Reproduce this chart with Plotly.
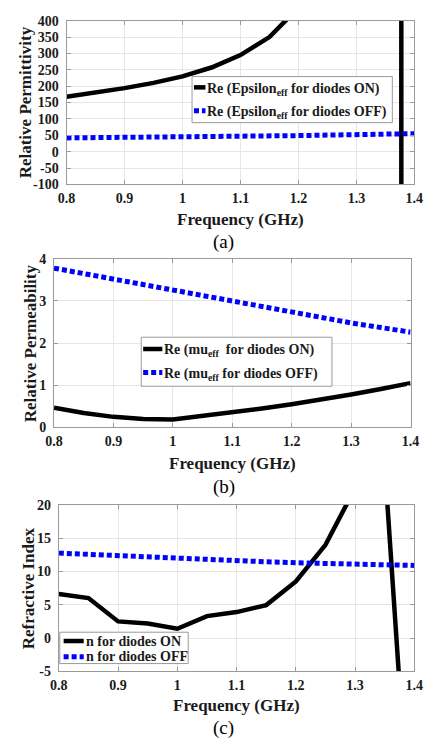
import plotly.graph_objects as go

# ---- data -------------------------------------------------------------
freq = [0.80, 0.85, 0.90, 0.95, 1.00, 1.05, 1.10, 1.15, 1.20, 1.25, 1.30, 1.35, 1.40]

# (a) effective permittivity, diodes ON has a resonance near 1.377 GHz
freq_eps_on = [0.80, 0.85, 0.90, 0.95, 1.00, 1.05, 1.10, 1.15, 1.20, 1.25, 1.30, 1.35,
               1.375, 1.380, 1.40]
eps_on = [168, 180, 194, 210, 230, 257, 295, 350, 440, 620, 1000, 2500,
          30000, -30000, -3000]
eps_off = [42, 42.5, 43, 44, 45, 46, 47, 48, 49, 50.5, 52, 53.5, 55]

# (b) effective permeability
mu_on = [0.47, 0.34, 0.25, 0.20, 0.19, 0.27, 0.36, 0.45, 0.55, 0.66, 0.78, 0.91, 1.05]
mu_off = [3.78, 3.65, 3.52, 3.38, 3.24, 3.10, 2.97, 2.84, 2.71, 2.59, 2.48, 2.37, 2.26]

# (c) refractive index
n_on = [6.6, 6.0, 2.5, 2.2, 1.4, 3.3, 3.9, 4.95, 8.5, 14.0, 22.5, 26.0, -40.0]
n_off = [12.75, 12.55, 12.3, 12.1, 11.9, 11.75, 11.6, 11.45, 11.3, 11.2, 11.1, 11.0, 10.9]

x_ticks = [0.8, 0.9, 1.0, 1.1, 1.2, 1.3, 1.4]
x_ticktext = ["0.8", "0.9", "1", "1.1", "1.2", "1.3", "1.4"]
eps_ticks = [400, 350, 300, 250, 200, 150, 100, 50, 0, -50, -100]
mu_ticks = [0, 1, 2, 3, 4]
n_ticks = [20, 15, 10, 5, 0, -5]

legend_a = ["Re (Epsilon<sub>eff</sub> for diodes ON)",
            "Re (Epsilon<sub>eff</sub> for diodes OFF)"]
legend_b = ["Re (mu<sub>eff</sub>  for diodes ON)",
            "Re (mu<sub>eff</sub> for diodes OFF)"]
legend_c = ["n for diodes ON", "n for diodes OFF"]

# ---- styling ----------------------------------------------------------
SERIF = "Liberation Serif, Times New Roman, serif"
W, H = 432, 748
TXT = "#1a1a1a"
BOX = "#9a9a9a"
ON_LINE = dict(color="black", width=4.5)
OFF_LINE = dict(color="#0000ff", width=5, dash="5px,3px")


def px_x(p):
    return p / W


def px_y(p):
    return 1 - p / H


fig = go.Figure()

fig.add_trace(go.Scatter(x=freq_eps_on, y=eps_on, mode="lines", line=ON_LINE,
                         name=legend_a[0], xaxis="x", yaxis="y"))
fig.add_trace(go.Scatter(x=freq, y=eps_off, mode="lines", line=OFF_LINE,
                         name=legend_a[1], xaxis="x", yaxis="y"))
fig.add_trace(go.Scatter(x=freq, y=mu_on, mode="lines", line=ON_LINE,
                         name=legend_b[0], xaxis="x2", yaxis="y2"))
fig.add_trace(go.Scatter(x=freq, y=mu_off, mode="lines", line=OFF_LINE,
                         name=legend_b[1], xaxis="x2", yaxis="y2"))
fig.add_trace(go.Scatter(x=freq, y=n_on, mode="lines", line=ON_LINE,
                         name=legend_c[0], xaxis="x3", yaxis="y3"))
fig.add_trace(go.Scatter(x=freq, y=n_off, mode="lines", line=OFF_LINE,
                         name=legend_c[1], xaxis="x3", yaxis="y3"))

tick_font = dict(family=SERIF, size=14, color=TXT, weight="bold")
common = dict(showline=True, linecolor=BOX, linewidth=1, mirror="ticks",
              showgrid=True, gridcolor="#e6e6e6", gridwidth=1,
              ticks="inside", ticklen=4, tickcolor=BOX,
              tickfont=tick_font, zeroline=False)


def xaxis(domain, anchor):
    return dict(common, domain=domain, anchor=anchor, range=[0.8, 1.4],
                tickvals=x_ticks, ticktext=x_ticktext, ticklabelstandoff=1)


def yaxis(domain, anchor, rng, ticks):
    return dict(common, domain=domain, anchor=anchor, range=rng,
                tickvals=ticks, ticktext=[str(t) for t in ticks],
                ticklabelstandoff=4)


fig.update_layout(
    width=W, height=H, margin=dict(l=0, r=0, t=0, b=0),
    paper_bgcolor="white", plot_bgcolor="white", showlegend=False,
    xaxis=xaxis([px_x(60), px_x(423)], "y"),
    yaxis=yaxis([px_y(181), px_y(14)], "x", [-100, 400], eps_ticks),
    xaxis2=xaxis([px_x(47), px_x(419)], "y2"),
    yaxis2=yaxis([px_y(429), px_y(257)], "x2", [0, 4], mu_ticks),
    xaxis3=xaxis([px_x(52), px_x(423)], "y3"),
    yaxis3=yaxis([px_y(678), px_y(508)], "x3", [-5, 20], n_ticks),
)

title_font = dict(family=SERIF, size=17, color=TXT, weight="bold")


def text(label, x, y, font, **kw):
    fig.add_annotation(text=label, x=px_x(x), y=px_y(y), xref="paper", yref="paper",
                       showarrow=False, font=font, **kw)


# axis titles
y_titles = [("Relative Permittivity", 17, 97),
            ("Relative Permeability", 22, 343),
            ("Refractive Index", 20, 593)]
for label, x, y in y_titles:
    text(label, x, y, title_font, textangle=-90, xanchor="center", yanchor="middle")

x_titles = [(241.5, 217), (233, 466), (237.5, 713)]
for x, y in x_titles:
    text("Frequency (GHz)", x, y, title_font, xanchor="center", yanchor="middle")

# panel captions
for label, y in [("(a)", 240), ("(b)", 490), ("(c)", 736)]:
    text(label, 224, y, dict(family=SERIF, size=19, color="black"),
         xanchor="center", yanchor="middle")

# legends: box, line samples and entry texts
legend_font = dict(family=SERIF, size=14, color=TXT, weight="bold")
legends = [
    # box (l, r, t, b), sample x-span, row ys, text x, entries
    ((191, 400, 71, 118), (193, 205), (82, 106), 206, legend_a),
    ((138, 337, 337, 387), (140, 160), (349, 373), 161, legend_b),
    ((53, 187, 638, 670), (57, 78), (647, 663), 79, legend_c),
]
for (l, r, t, b), (sx0, sx1), rows, tx, entries in legends:
    fig.add_shape(type="rect", xref="paper", yref="paper",
                  x0=px_x(l), x1=px_x(r), y0=px_y(b), y1=px_y(t),
                  line=dict(color=BOX, width=1), fillcolor="white", layer="above")
    for ry, style, entry in zip(rows, (ON_LINE, OFF_LINE), entries):
        fig.add_shape(type="line", xref="paper", yref="paper",
                      x0=px_x(sx0), x1=px_x(sx1), y0=px_y(ry), y1=px_y(ry),
                      line=style, layer="above")
        has_sub = "<sub>" in entry
        text(entry, tx, ry - (8 if has_sub else 0), legend_font,
             xanchor="left", yanchor="top" if has_sub else "middle", borderpad=0)

fig.write_html("out.html")
